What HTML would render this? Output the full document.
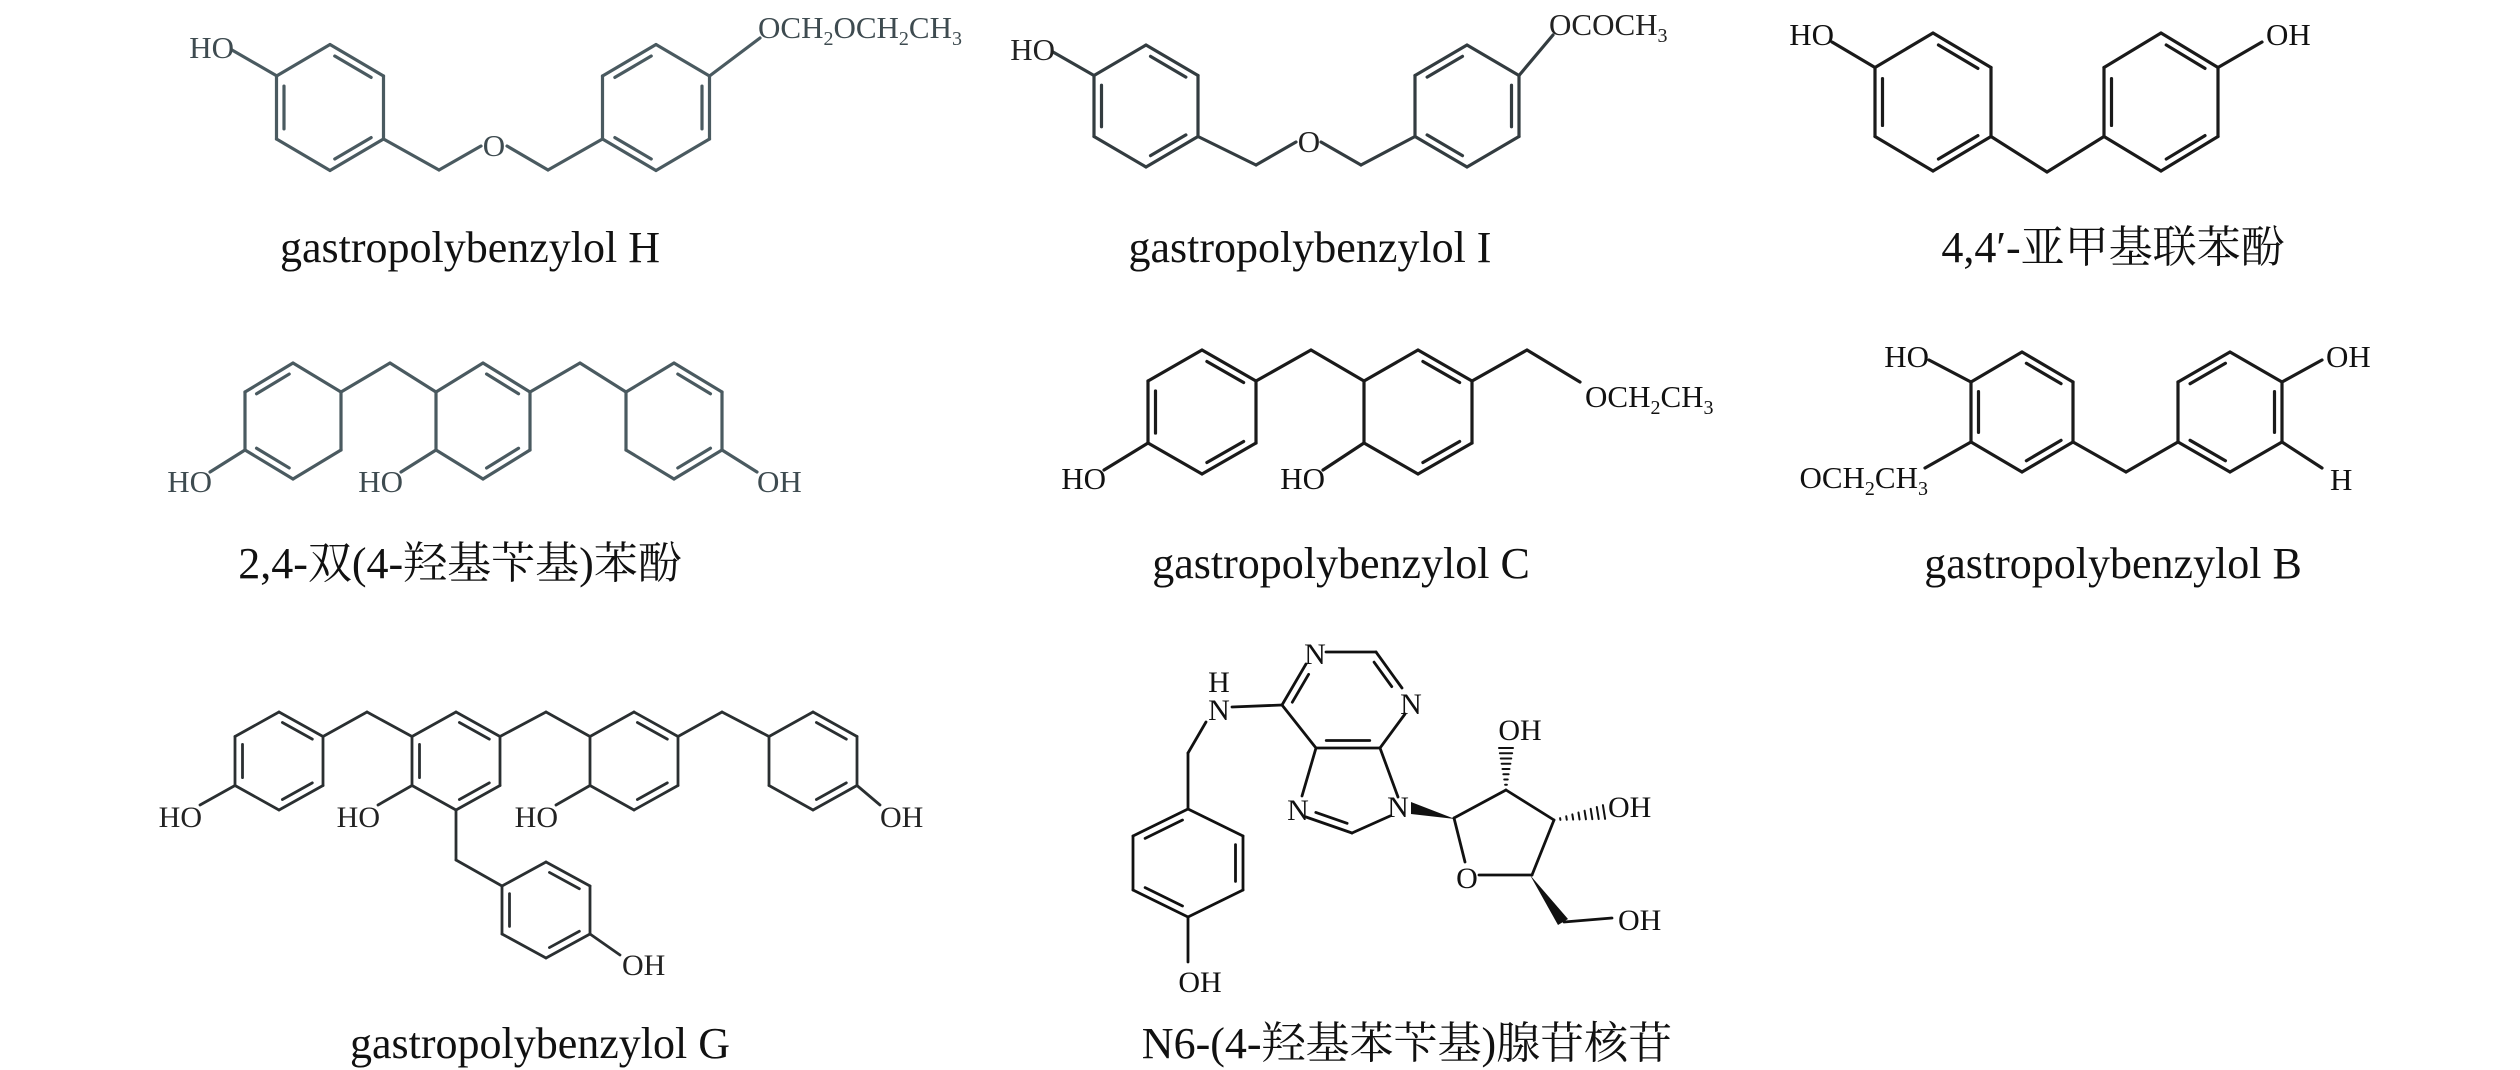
<!DOCTYPE html>
<html><head><meta charset="utf-8">
<style>
html,body{margin:0;padding:0;background:#fff;}
svg{display:block;}
text{font-family:"Liberation Serif","Noto Serif CJK SC","Noto Sans CJK SC",serif;}
.a{font-size:31px;}
.g{font-size:30px;}
.e{text-anchor:end;}
.m{text-anchor:middle;}
.lab{font-size:44px;text-anchor:middle;fill:#111;}
</style></head>
<body>
<svg id="s" width="2520" height="1070" viewBox="0 0 2520 1070" xmlns="http://www.w3.org/2000/svg">
<rect width="2520" height="1070" fill="#fff"/>
<g id="bonds" stroke-linecap="round" fill="none"></g>
<g class="a" fill="#3e4b50">
<text class="e" x="234" y="58">HO</text>
<text class="m" x="494" y="156">O</text>
<text x="758" y="38">OCH<tspan font-size="20" dy="7">2</tspan><tspan dy="-7">OCH</tspan><tspan font-size="20" dy="7">2</tspan><tspan dy="-7">CH</tspan><tspan font-size="20" dy="7">3</tspan></text>
</g>
<g class="a" fill="#222">
<text class="e" x="1055" y="60">HO</text>
<text class="m" x="1309" y="152">O</text>
<text x="1549" y="35">OCOCH<tspan font-size="20" dy="7">3</tspan></text>
</g>
<g class="a" fill="#111">
<text class="e" x="1834" y="45">HO</text>
<text x="2266" y="45">OH</text>
</g>
<g class="a" fill="#3e4b50">
<text class="e" x="212" y="492">HO</text>
<text class="e" x="403" y="492">HO</text>
<text x="757" y="492">OH</text>
</g>
<g class="a" fill="#111">
<text class="e" x="1106" y="489">HO</text>
<text class="e" x="1325" y="489">HO</text>
<text x="1585" y="407">OCH<tspan font-size="20" dy="7">2</tspan><tspan dy="-7">CH</tspan><tspan font-size="20" dy="7">3</tspan></text>
</g>
<g class="a" fill="#111">
<text class="e" x="1929" y="367">HO</text>
<text class="e" x="1928" y="488">OCH<tspan font-size="20" dy="7">2</tspan><tspan dy="-7">CH</tspan><tspan font-size="20" dy="7">3</tspan></text>
<text x="2326" y="367">OH</text>
<text x="2330" y="490">H</text>
</g>
<g class="g" fill="#222">
<text class="e" x="202" y="827">HO</text>
<text class="e" x="380" y="827">HO</text>
<text class="e" x="558" y="827">HO</text>
<text x="880" y="827">OH</text>
<text x="622" y="975">OH</text>
</g>
<g class="g" fill="#111">
<text class="m" x="1200" y="992">OH</text>
<text class="m" x="1219" y="720">N</text>
<text class="m" x="1219" y="692">H</text>
<text class="m" x="1315" y="664">N</text>
<text class="m" x="1411" y="714">N</text>
<text class="m" x="1298" y="820">N</text>
<text class="m" x="1398" y="817">N</text>
<text class="m" x="1467" y="888">O</text>
<text class="m" x="1520" y="740">OH</text>
<text x="1608" y="817">OH</text>
<text x="1618" y="930">OH</text>
<polygon points="1411,802 1411,814 1455,819" fill="#111"/>
<polygon points="1530,875 1558,925 1568,919" fill="#111"/>
</g>
<text class="lab" x="470" y="262">gastropolybenzylol H</text>
<text class="lab" x="1310" y="262">gastropolybenzylol I</text>
<text class="lab" x="2113" y="262">4,4′-亚甲基联苯酚</text>
<text class="lab" x="460" y="578">2,4-双(4-羟基苄基)苯酚</text>
<text class="lab" x="1341" y="578">gastropolybenzylol C</text>
<text class="lab" x="2113" y="578">gastropolybenzylol B</text>
<text class="lab" x="540" y="1058">gastropolybenzylol G</text>
<text class="lab" x="1407" y="1058">N6-(4-羟基苯苄基)腺苷核苷</text>
</svg>
<script>
(function(){
var G=document.getElementById('bonds');var NS='http://www.w3.org/2000/svg';
var col='#111',w=3;
function L(x1,y1,x2,y2){var l=document.createElementNS(NS,'line');l.setAttribute('x1',x1);l.setAttribute('y1',y1);l.setAttribute('x2',x2);l.setAttribute('y2',y2);l.setAttribute('stroke',col);l.setAttribute('stroke-width',w);G.appendChild(l);}
function inner(a,b,cx,cy){var mx=(a[0]+b[0])/2,my=(a[1]+b[1])/2;var dx=b[0]-a[0],dy=b[1]-a[1];var len=Math.hypot(dx,dy);var nx=-dy/len,ny=dx/len;if((cx-mx)*nx+(cy-my)*ny<0){nx=-nx;ny=-ny;}var o=7.5,t=0.16;L(a[0]+dx*t+nx*o,a[1]+dy*t+ny*o,b[0]-dx*t+nx*o,b[1]-dy*t+ny*o);}
function ring(cx,cy,hw,r,d){var v=[[cx,cy-r],[cx+hw,cy-r/2],[cx+hw,cy+r/2],[cx,cy+r],[cx-hw,cy+r/2],[cx-hw,cy-r/2]];for(var i=0;i<6;i++){var a=v[i],b=v[(i+1)%6];L(a[0],a[1],b[0],b[1]);}d.forEach(function(i){inner(v[i],v[(i+1)%6],cx,cy);});}
function P(pts){for(var i=0;i<pts.length-1;i++)L(pts[i][0],pts[i][1],pts[i+1][0],pts[i+1][1]);}
function hash(x1,y1,x2,y2,n,wmax){var dx=x2-x1,dy=y2-y1,len=Math.hypot(dx,dy),nx=-dy/len,ny=dx/len;var ow=w;w=2;for(var i=1;i<=n;i++){var t=i/n,px=x1+dx*t,py=y1+dy*t,h=wmax*t;L(px-nx*h,py-ny*h,px+nx*h,py+ny*h);}w=ow;}
col='#4a5a60';w=3.2;
ring(330,107.5,53.5,63,[0,2,4]);ring(656,107.5,53.5,63,[5,1,3]);
P([[277,76],[232,50]]);P([[383.5,139],[439,170],[481,146]]);P([[507,146],[548,170],[602.5,139]]);P([[709.5,76],[760,38]]);
col='#333c40';
ring(1146,106,52,61,[0,2,4]);ring(1467,106,52,61,[5,1,3]);
P([[1094,75.5],[1053,52]]);P([[1198,136.5],[1256,165],[1296,142]]);P([[1321,142],[1361,165],[1415,136.5]]);P([[1519,75.5],[1553,35]]);
col='#1a1a1a';
ring(1933,102,58,69,[0,2,4]);ring(2161,102,57,69,[0,2,4]);
P([[1875,67.5],[1832,42]]);P([[1991,136.5],[2047,172],[2104,136.5]]);P([[2218,67.5],[2262,42]]);
col='#4a5a60';
ring(293,421,48,58,[5,3]);ring(483,421,47,58,[0,2]);ring(674,421,48,58,[0,2]);
P([[341,392],[390,363],[436,392]]);P([[530,392],[580,363],[626,392]]);
P([[245,450],[210,472]]);P([[436,450],[401,472]]);P([[722,450],[757,472]]);
col='#1a1a1a';
ring(1202,412,54,62,[0,2,4]);ring(1418,412,54,62,[0,2]);
P([[1256,381],[1311,350],[1364,381]]);P([[1472,381],[1527,350],[1580,382]]);
P([[1148,443],[1104,470]]);P([[1364,443],[1323,470]]);
ring(2022,412,51,60,[0,2,4]);ring(2230,412,52,60,[5,1,3]);
P([[1971,382],[1929,360]]);P([[1971,442],[1925,468]]);P([[2073,442],[2126,472],[2178,442]]);
P([[2282,382],[2322,360]]);P([[2282,442],[2322,468]]);
col='#2a2f31';w=2.8;
ring(279,761,44,49,[0,2,4]);ring(456,761,44,49,[0,2,4]);ring(634,761,44,49,[0,2]);ring(813,761,44,49,[0,2]);ring(546,910,44,48,[0,2,4]);
P([[323,736.5],[367,712],[412,736.5]]);P([[500,736.5],[546,712],[590,736.5]]);P([[678,736.5],[722,712],[769,736.5]]);
P([[456,810],[456,860],[502,886]]);
P([[235,785.5],[200,805]]);P([[412,785.5],[378,805]]);P([[590,785.5],[556,805]]);P([[857,785.5],[880,805]]);P([[590,934],[620,955]]);
col='#111';w=2.8;
ring(1188,863,55,54,[5,1,3]);
P([[1188,917],[1188,962]]);P([[1188,809],[1188,753],[1206,722]]);
P([[1232,707],[1282,705]]);
var pc=[1346,700];
L(1282,705,1306,664);inner([1282,705],[1306,664],pc[0],pc[1]);
L(1326,652,1376,652);
L(1376,652,1402,688);inner([1376,652],[1402,688],pc[0],pc[1]);
L(1405,714,1380,748);
L(1380,748,1316,748);inner([1380,748],[1316,748],pc[0],pc[1]);
L(1316,748,1282,705);
L(1316,748,1302,796);
L(1306,817,1352,833);inner([1306,817],[1352,833],1348,795);
L(1352,833,1390,816);
L(1398,797,1380,748);
P([[1454,818],[1506,790],[1554,820],[1532,875],[1479,875]]);
L(1465,862,1454,818);
hash(1506,790,1506,748,8,7);
hash(1554,820,1604,812,8,7);
P([[1564,922],[1612,918]]);
})();
</script>
</body></html>
